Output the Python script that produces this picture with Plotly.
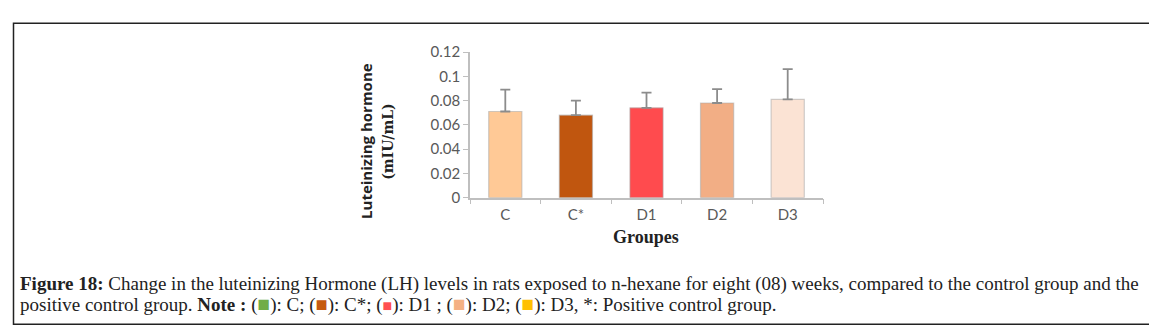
import plotly.graph_objects as go

groups = ["C", "C*", "D1", "D2", "D3"]
means = [0.071, 0.068, 0.074, 0.078, 0.081]
sd = [0.018, 0.012, 0.0125, 0.0115, 0.025]
bar_colors = ["#FFC996", "#C0560F", "#FF4B4E", "#F2AE85", "#FBE3D4"]
y_ticks = [0, 0.02, 0.04, 0.06, 0.08, 0.1, 0.12]
y_tick_text = ["0", "0.02", "0.04", "0.06", "0.08", "0.1", "0.12"]
note_colors = ["#70AD47", "#C55A11", "#FF5050", "#F4B183", "#FFC000"]
note_sizes = [21, 20, 16, 21, 21]

W, H = 1157, 330
def px(x):
    return x / W
def py(y):
    return 1 - y / H

fig = go.Figure()
fig.add_trace(go.Bar(
    x=groups, y=means,
    marker=dict(color=bar_colors, line=dict(color="rgba(170,170,170,0.55)", width=1.2)),
    width=0.47,
    error_y=dict(type="data", array=sd, arrayminus=[0]*len(sd), symmetric=False,
                 color="#8C8C8C", thickness=1.8, width=5),
))

tickfont = dict(family="Lato, Liberation Sans", size=15, color="#595959")
fig.update_layout(
    width=W, height=H,
    margin=dict(l=0, r=0, t=0, b=0),
    paper_bgcolor="white", plot_bgcolor="white",
    showlegend=False,
    xaxis=dict(domain=[px(462), px(815)], anchor="y",
               showline=True, linecolor="#BFBFBF", linewidth=1.5,
               ticks="outside", tickson="boundaries", ticklen=5, tickcolor="#BFBFBF",
               ticklabelstandoff=3,
               tickfont=tickfont, showgrid=False),
    yaxis=dict(domain=[py(190), py(36)], range=[0, 0.12],
               tickvals=y_ticks, ticktext=y_tick_text,
               showline=True, linecolor="#BFBFBF", linewidth=1.5,
               ticks="outside", ticklen=5, tickcolor="#BFBFBF",
               tickfont=tickfont, showgrid=False, zeroline=False),
)

ann = []
# y-axis title
ann.append(dict(x=px(358), y=py(130), xref="paper", yref="paper", textangle=-90,
                xanchor="center", yanchor="middle",
                text="<b>Luteinizing hormone</b>", showarrow=False,
                font=dict(family="Open Sans", size=15, color="#222")))
ann.append(dict(x=px(380), y=py(131), xref="paper", yref="paper", textangle=-90,
                xanchor="center", yanchor="middle",
                text="<b>(mIU/mL)</b>", showarrow=False,
                font=dict(family="DejaVu Serif", size=14, color="#222")))
# x-axis title
ann.append(dict(x=px(638), y=py(232), xref="paper", yref="paper",
                xanchor="center", yanchor="middle",
                text="<b>Groupes</b>", showarrow=False,
                font=dict(family="Liberation Serif", size=18, color="#222")))

def sq(c, s):
    return f"(<span style='color:{c};font-size:{s}px'>■</span>)"

line1 = ("<b>Figure 18:</b> Change in the luteinizing Hormone (LH) levels in rats exposed to "
         "n-hexane for eight (08) weeks, compared to the control group and the")
line2 = (f"positive control group. <b>Note :</b> {sq(note_colors[0], note_sizes[0])}: C; "
         f"{sq(note_colors[1], note_sizes[1])}: C*; "
         f"{sq(note_colors[2], note_sizes[2])}: D1 ; {sq(note_colors[3], note_sizes[3])}: D2; "
         f"{sq(note_colors[4], note_sizes[4])}: D3, *: Positive control group.")
capfont = dict(family="Liberation Serif", size=19, color="#222")
ann.append(dict(x=px(10), y=py(281), xref="paper", yref="paper", xanchor="left", yanchor="middle",
                text=line1, showarrow=False, align="left", font=capfont))
ann.append(dict(x=px(10), y=py(302), xref="paper", yref="paper", xanchor="left", yanchor="middle",
                text=line2, showarrow=False, align="left", font=capfont))
fig.update_layout(annotations=ann)

fig.add_shape(type="rect", xref="paper", yref="paper",
              x0=px(5.5), x1=px(1150.5), y0=py(324), y1=py(5.5),
              line=dict(color="#222", width=1.5), fillcolor="rgba(0,0,0,0)")

fig.write_html("out.html")
